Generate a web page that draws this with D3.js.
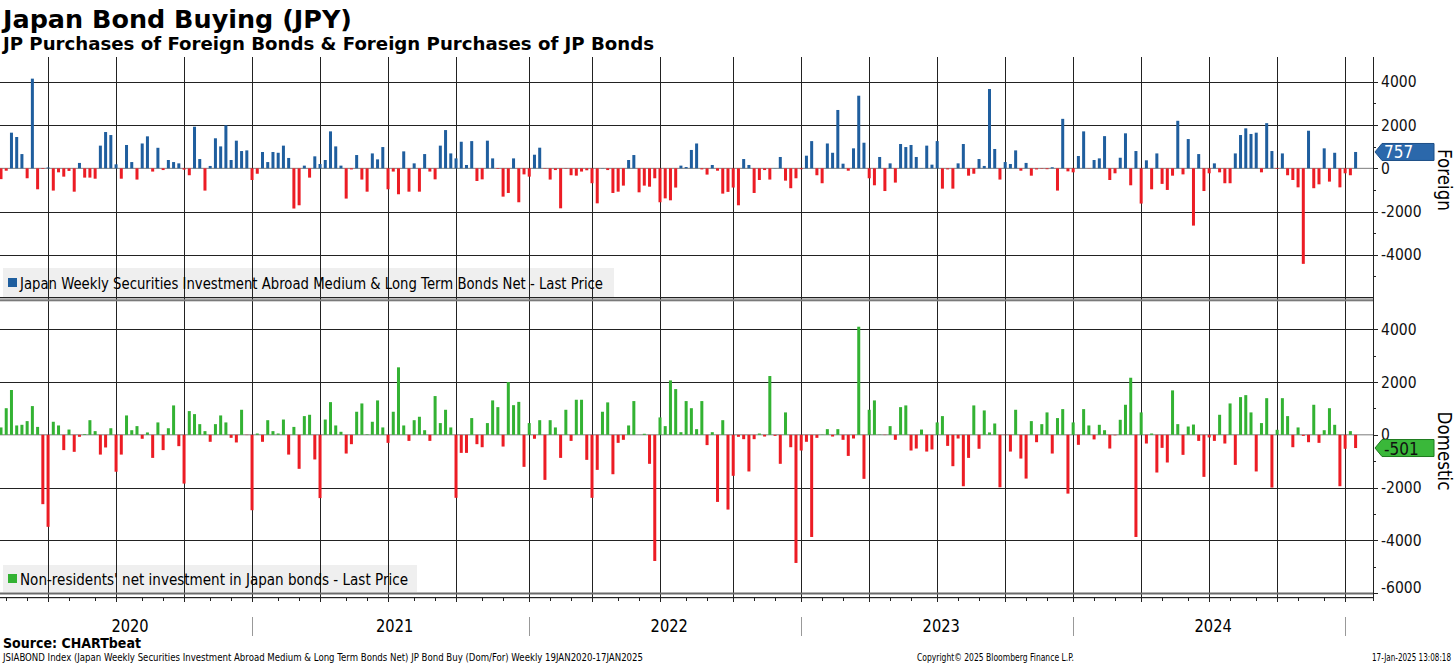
<!DOCTYPE html>
<html><head><meta charset="utf-8">
<script src="https://cdn.jsdelivr.net/npm/d3@7"></script>
<style>body{margin:0;background:#fff;overflow:hidden}svg{display:block}</style>
</head><body><svg id="c" width="1456" height="665"></svg>
<script>
// ---------- DATA ----------
const firstWeek = "2020-01-31";   // first weekly (Friday) observation drawn
const lastWeek  = "2025-01-17";   // last weekly observation
// Japan Weekly Securities Investment Abroad Medium & Long Term Bonds Net (JPY bn)
const foreignBonds = [
 -500,-110,1650,1450,660,-460,4150,-970,-30,40,
 -1030,-185,-385,-120,-1080,250,-430,-430,-480,1050,
 1680,1540,185,-480,1080,290,-520,1150,1480,-150,
 950,-80,385,290,230,-60,-320,1925,430,-1030,
 110,1390,1015,1990,385,1280,800,830,-540,-250,
 755,290,755,720,1050,480,-1860,-1710,125,-430,
 555,200,385,1710,1015,125,-1400,-50,615,-520,
 -1080,690,415,985,-970,-150,-1200,785,-1080,230,
 -1080,660,-150,-510,1050,1770,690,460,1230,155,
 1260,-585,-510,1280,460,-30,-1310,-1140,460,-1570,
 -280,-385,630,955,-20,-520,-80,-1850,-20,-320,
 -340,-150,-90,-690,-1620,10,-80,-1140,-1080,-800,
 385,615,-1110,-800,-850,-460,-1570,-1390,-1480,-890,
 125,60,850,1150,-50,-290,155,-110,-1170,-1090,
 -890,-1710,430,155,-1140,-540,-80,-520,10,525,
 -570,-920,-460,-40,585,1260,-320,-690,1150,720,
 2700,215,-110,925,3360,1185,-460,-785,525,-1050,
 230,-660,1125,985,1080,525,10,1050,170,1260,
 -940,-50,-940,230,1125,-340,-250,430,110,3670,
 895,-520,290,200,830,-110,250,-340,-50,-20,
 -40,50,-1030,2290,-140,-185,570,1710,-10,385,
 460,1490,-540,-230,490,1620,-785,800,-1630,370,
 -970,690,-720,-1000,-340,2200,-280,1355,-2650,660,
 -1050,-230,230,-185,-690,-690,690,1540,1850,1590,
 1650,-185,2090,800,-30,690,-320,-540,-880,-4420,
 1740,-920,-740,925,-615,720,-880,-230,-320,757
];
// Non-residents' net investment in Japan bonds (JPY bn)
const domesticBonds = [
 280,1010,1700,355,380,520,1090,300,-2630,-3490,
 495,355,-580,200,-645,-75,25,555,140,-750,
 -480,250,-1400,-750,735,175,330,-150,90,-875,
 470,-580,250,1115,-430,-1850,900,785,405,140,
 -265,405,735,470,-115,-290,950,-10,-2860,50,
 -265,555,140,50,580,-750,300,-1290,710,760,
 -935,-2400,580,1240,355,115,-710,-355,875,1190,
 20,495,1305,280,-305,875,2560,355,-230,555,
 685,175,-230,1470,445,950,280,-2390,-685,-685,
 635,-355,-470,445,1305,1050,-445,2000,1125,1250,
 -1215,445,-150,555,-1710,555,280,-875,950,-230,
 1330,1330,-950,-2390,-1330,875,1230,-1495,-305,-190,
 355,1280,0,40,-1100,-4785,660,330,2065,1735,
 100,1280,1010,215,1280,-390,100,-2545,555,-2835,
 -1555,-75,-165,-1390,-165,50,-65,2230,-40,-1100,
 850,-470,-4860,-595,-265,-3875,-115,10,215,-65,
 215,-190,-800,-140,4100,-1670,950,1305,10,-10,
 330,-190,1050,1115,-595,-520,200,-635,-555,470,
 710,-420,-1190,-140,-1950,-875,1115,-530,925,90,
 430,-1990,-10,-635,950,-900,-1660,520,-280,405,
 850,-710,635,975,-2230,470,-380,975,355,-175,
 380,175,-520,-20,570,1140,2165,-3875,850,-330,
 50,-1430,-495,-1050,1685,405,-760,315,390,-230,
 -1595,-100,-230,760,-330,1190,-1140,1430,1505,850,
 -1390,445,1390,-2000,190,1390,710,-470,280,-40,
 -280,1140,-305,175,1010,380,-1950,-530,140,-501
];
const topTicks = [4000, 2000, 0, -2000, -4000];
const bottomTicks = [4000, 2000, 0, -2000, -4000, -6000];
const yearLabels = ["2020", "2021", "2022", "2023", "2024"];
const titleText = "Japan Bond Buying (JPY)";
const subtitleText = "JP Purchases of Foreign Bonds & Foreign Purchases of JP Bonds";
const legendTop = "Japan Weekly Securities Investment Abroad Medium & Long Term Bonds Net - Last Price";
const legendBottom = "Non-residents' net investment in Japan bonds - Last Price";
const axisTitleTop = "Foreign";
const axisTitleBottom = "Domestic";
const sourceText = "Source: CHARTbeat";
const footerLeft = "JSIABOND Index (Japan Weekly Securities Investment Abroad Medium & Long Term Bonds Net) JP Bond Buy (Dom/For)  Weekly 19JAN2020-17JAN2025";
const footerMid = "Copyright\u00A9 2025 Bloomberg Finance L.P.";
const footerRight = "17-Jan-2025 13:08:18";

// ---------- SETUP ----------
const FONT = "DejaVu Sans, Verdana, sans-serif";
const C = {blue:"#1f5e9e", red:"#ec1c24", green:"#33b233", grid:"#222", flagBlue:"#2b68ab", flagGreen:"#3ab83a"};
const svg = d3.select("#c");
const parse = d3.timeParse("%Y-%m-%d");
const dates = d3.timeFriday.range(parse(firstWeek), d3.timeDay.offset(parse(lastWeek), 1));
const plotR = 1373;
const x = d3.scaleTime().domain([dates[0], dates[dates.length - 1]]).range([1, 1355.6]);
const yT = d3.scaleLinear().domain([-6000, 4920]).range([298, 62]);
const yB = d3.scaleLinear().domain([-6000, 5000]).range([593, 303]);

function squeeze(sel, f) {
  sel.each(function () {
    const L = this.getComputedTextLength();
    d3.select(this).attr("textLength", L * f).attr("lengthAdjust", "spacingAndGlyphs");
  });
}
function fit(sel, w) { sel.attr("textLength", w).attr("lengthAdjust", "spacingAndGlyphs"); }

const qKey = d => d.getFullYear() * 4 + Math.floor(d.getMonth() / 3);
const mKey = d => d.getFullYear() * 12 + d.getMonth();
const quarterStarts = dates.filter((d, i) => i > 0 && qKey(d) !== qKey(dates[i - 1]));
const monthStarts = dates.filter((d, i) => i > 0 && mKey(d) !== mKey(dates[i - 1]));
const yearStarts = dates.filter((d, i) => i > 0 && d.getFullYear() !== dates[i - 1].getFullYear());

// ---------- TITLES ----------
svg.append("text").attr("x", 3).attr("y", 28).attr("font-family", FONT).attr("font-weight", "bold")
  .attr("font-size", 24).text(titleText).call(fit, 349);
svg.append("text").attr("x", 3).attr("y", 50).attr("font-family", FONT).attr("font-weight", "bold")
  .attr("font-size", 18).text(subtitleText).call(fit, 651);

// ---------- LEGEND BACKGROUNDS ----------
svg.append("rect").attr("x", 3).attr("y", 268).attr("width", 611).attr("height", 29).attr("fill", "#efefef");
svg.append("rect").attr("x", 3).attr("y", 565).attr("width", 414).attr("height", 27).attr("fill", "#efefef");

// ---------- GRID ----------
const g = svg.append("g");
g.selectAll(".vg").data(quarterStarts).join("line")
  .attr("x1", d => Math.round(x(d)) + 0.5).attr("x2", d => Math.round(x(d)) + 0.5)
  .attr("y1", 57).attr("y2", 602).attr("stroke", C.grid).attr("stroke-width", 1);
[[yT, [4000, 2000, -2000, -4000]], [yB, [4000, 2000, -2000, -4000]]].forEach(([ys, vals]) => {
  g.selectAll(null).data(vals).join("line")
    .attr("x1", 0).attr("x2", plotR).attr("y1", d => Math.round(ys(d)) + 0.5).attr("y2", d => Math.round(ys(d)) + 0.5)
    .attr("stroke", C.grid).attr("stroke-width", 1);
});
// panel separator & bottom frame
svg.append("rect").attr("x", 0).attr("y", 297).attr("width", plotR).attr("height", 1.3).attr("fill", "#222");
svg.append("rect").attr("x", 0).attr("y", 299.3).attr("width", plotR).attr("height", 2).attr("fill", "#7a7a7a");
svg.append("rect").attr("x", 0).attr("y", 592.5).attr("width", plotR).attr("height", 2).attr("fill", "#6a6a6a");
svg.append("rect").attr("x", 0).attr("y", 597).attr("width", plotR).attr("height", 1.2).attr("fill", "#222");
g.selectAll(".mt").data(monthStarts).join("line")
  .attr("x1", d => Math.round(x(d)) + 0.5).attr("x2", d => Math.round(x(d)) + 0.5)
  .attr("y1", 597).attr("y2", 601).attr("stroke", "#222");

// ---------- LEGEND TEXT ----------
svg.append("rect").attr("x", 8).attr("y", 278).attr("width", 9).attr("height", 9).attr("fill", C.blue);
svg.append("text").attr("x", 20).attr("y", 288.5).attr("font-family", FONT).attr("font-size", 15)
  .text(legendTop).call(fit, 583);
svg.append("rect").attr("x", 8).attr("y", 574).attr("width", 9).attr("height", 9).attr("fill", C.green);
svg.append("text").attr("x", 20).attr("y", 584.5).attr("font-family", FONT).attr("font-size", 15)
  .text(legendBottom).call(fit, 388);

// ---------- BARS ----------
const bw = 3;
svg.append("line").attr("x1", 0).attr("x2", plotR).attr("y1", yT(0)).attr("y2", yT(0)).attr("stroke", "#444").attr("stroke-width", 0.7);
svg.append("line").attr("x1", 0).attr("x2", plotR).attr("y1", yB(0)).attr("y2", yB(0)).attr("stroke", "#444").attr("stroke-width", 0.7);
svg.append("g").selectAll("rect").data(foreignBonds).join("rect")
  .attr("x", (v, i) => x(dates[i]) - bw / 2).attr("width", bw)
  .attr("y", v => Math.min(yT(v), yT(0))).attr("height", v => Math.abs(yT(v) - yT(0)))
  .attr("fill", v => v >= 0 ? C.blue : C.red);
svg.append("g").selectAll("rect").data(domesticBonds).join("rect")
  .attr("x", (v, i) => x(dates[i]) - bw / 2).attr("width", bw)
  .attr("y", v => Math.min(yB(v), yB(0))).attr("height", v => Math.abs(yB(v) - yB(0)))
  .attr("fill", v => v >= 0 ? C.green : C.red);

// ---------- RIGHT AXES ----------
svg.append("line").attr("x1", plotR + 0.5).attr("x2", plotR + 0.5).attr("y1", 57).attr("y2", 601).attr("stroke", "#222");
function rightAxis(ys, ticks, lo, hi) {
  const minor = d3.range(lo, hi + 1, 1000).filter(v => v % 2000 !== 0);
  svg.selectAll(null).data(ticks).join("line").attr("x1", plotR).attr("x2", plotR + 5)
    .attr("y1", d => Math.round(ys(d)) + 0.5).attr("y2", d => Math.round(ys(d)) + 0.5).attr("stroke", "#222");
  svg.selectAll(null).data(minor).join("line").attr("x1", plotR).attr("x2", plotR + 3)
    .attr("y1", d => Math.round(ys(d)) + 0.5).attr("y2", d => Math.round(ys(d)) + 0.5).attr("stroke", "#222");
  svg.selectAll(null).data(ticks).join("text")
    .attr("x", plotR + 8).attr("y", d => ys(d) + (d === -6000 ? 0 : 5.5))
    .attr("font-family", FONT).attr("font-size", 15.5).attr("fill", "#111").text(d => d)
    .call(squeeze, 0.9);
}
rightAxis(yT, topTicks, -5000, 4000);
rightAxis(yB, bottomTicks, -5000, 4000);

svg.append("text").attr("transform", "translate(1438,180) rotate(90)").attr("text-anchor", "middle")
  .attr("font-family", FONT).attr("font-size", 19).text(axisTitleTop).call(squeeze, 0.88);
svg.append("text").attr("transform", "translate(1438,451) rotate(90)").attr("text-anchor", "middle")
  .attr("font-family", FONT).attr("font-size", 19).text(axisTitleBottom).call(squeeze, 0.88);

// ---------- LAST VALUE FLAGS ----------
function flag(ys, v, fill, stroke, txtColor) {
  const yv = ys(v), x0 = plotR + 2, h = 8.5;
  svg.append("path")
    .attr("d", `M${x0},${yv} L${x0 + 7},${yv - h} L1434,${yv - h} L1434,${yv + h} L${x0 + 7},${yv + h} Z`)
    .attr("fill", fill).attr("stroke", stroke).attr("stroke-width", 1);
  svg.append("text").attr("x", x0 + 9).attr("y", yv + 6.5).attr("font-family", FONT).attr("font-size", 17)
    .attr("fill", txtColor).text(v).call(squeeze, 0.9);
}
flag(yT, foreignBonds[foreignBonds.length - 1], C.flagBlue, "#1d4f86", "#fff");
flag(yB, domesticBonds[domesticBonds.length - 1], C.flagGreen, "#1e7a1e", "#111");

// ---------- X AXIS YEAR LABELS ----------
svg.selectAll(".ys").data(yearStarts).join("line")
  .attr("x1", d => Math.round(x(d)) + 0.5).attr("x2", d => Math.round(x(d)) + 0.5)
  .attr("y1", 617).attr("y2", 636).attr("stroke", "#999");
const bounds = [0, ...yearStarts.map(d => x(d))];
svg.selectAll(".yl").data(yearLabels).join("text")
  .attr("x", (d, i) => (bounds[i] + bounds[i + 1]) / 2 + 4).attr("y", 632)
  .attr("text-anchor", "middle").attr("font-family", FONT).attr("font-size", 17).text(d => d)
  .call(squeeze, 0.86);

// ---------- FOOTER ----------
svg.append("text").attr("x", 3).attr("y", 648).attr("font-family", FONT).attr("font-weight", "bold")
  .attr("font-size", 14.5).text(sourceText).call(fit, 138);
svg.append("text").attr("x", 3).attr("y", 661).attr("font-family", FONT).attr("font-size", 10)
  .text(footerLeft).call(fit, 640);
svg.append("text").attr("x", 917).attr("y", 661).attr("font-family", FONT).attr("font-size", 10)
  .text(footerMid).call(fit, 157);
svg.append("text").attr("x", 1372).attr("y", 661).attr("font-family", FONT).attr("font-size", 10)
  .text(footerRight).call(fit, 79);
</script></body></html>
